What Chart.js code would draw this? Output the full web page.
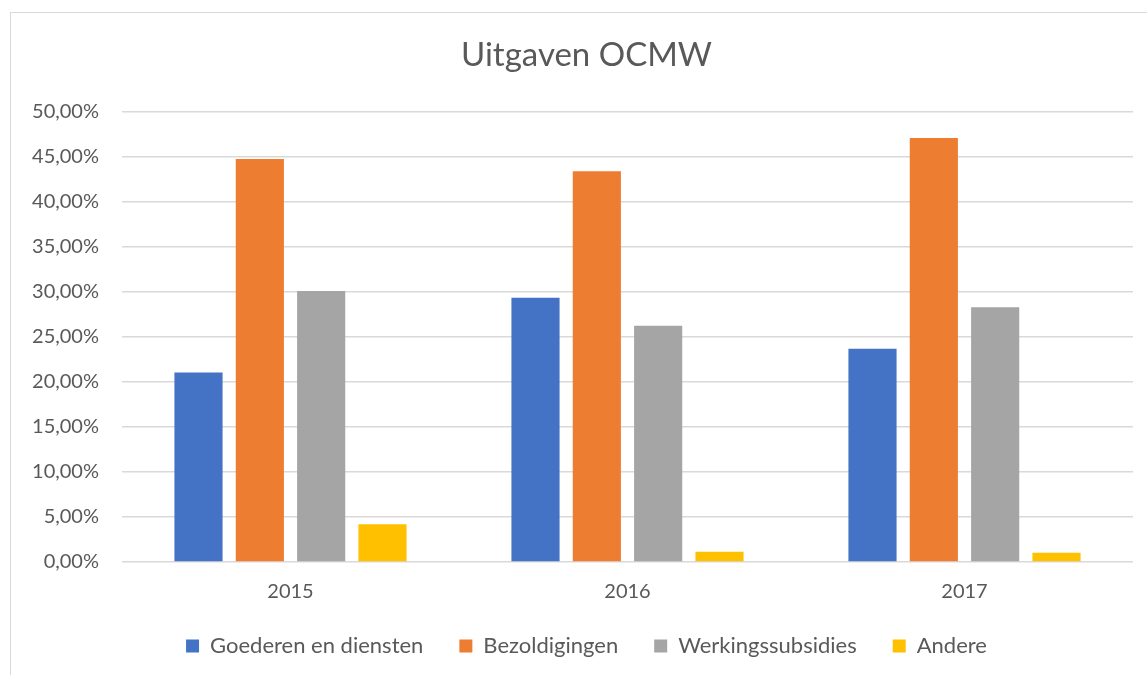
<!DOCTYPE html>
<html>
<head>
<meta charset="utf-8">
<script src="https://cdn.jsdelivr.net/npm/chart.js@4"></script>
<style>
  html, body { margin: 0; padding: 0; background: #fff; overflow: hidden; }
  #wrap {
    position: absolute; left: 10px; top: 12px;
    width: 1158px; height: 663px;
    border-left: 1px solid #d9d9d9; border-top: 1px solid #d9d9d9;
    box-sizing: border-box;
  }
</style>
</head>
<body>
<div id="wrap"><canvas id="chart"></canvas></div>
<script>
// Data
const years = ['2015', '2016', '2017'];
const goederen = [21.04, 29.33, 23.67];
const bezoldigingen = [44.74, 43.38, 47.08];
const werkingssubsidies = [30.08, 26.22, 28.27];
const andere = [4.19, 1.15, 1.04];

const textColor = '#595959';
const fontFamily = 'Lato, "Open Sans", sans-serif';

const makeSet = (label, data, color) => ({
    label,
    data,
    backgroundColor: color,
    borderWidth: 0,
    categoryPercentage: 0.728,
    barPercentage: 0.785
});

// pull the legend up closer to the axis labels (wide item spacing, tight vertical gap)
const legendShift = {
    id: 'legendShift',
    afterLayout(chart) {
        chart.legend.top -= 23;
    }
};

new Chart(document.getElementById('chart').getContext('2d'), {
    type: 'bar',
    data: {
        labels: years,
        datasets: [
            makeSet('Goederen en diensten', goederen, '#4472c4'),
            makeSet('Bezoldigingen', bezoldigingen, '#ed7d31'),
            makeSet('Werkingssubsidies', werkingssubsidies, '#a5a5a5'),
            makeSet('Andere', andere, '#ffc000')
        ]
    },
    plugins: [legendShift],
    options: {
        responsive: true,
        maintainAspectRatio: false,
        animation: false,
        layout: { padding: { left: 0, right: 6, top: 23, bottom: 0 } },
        plugins: {
            title: {
                display: true,
                text: 'Uitgaven OCMW',
                color: textColor,
                font: { family: fontFamily, size: 33, weight: 'normal' },
                padding: { top: 0, bottom: 36 }
            },
            legend: {
                position: 'bottom',
                maxHeight: 53,
                labels: {
                    color: textColor,
                    font: { family: fontFamily, size: 22 },
                    boxWidth: 13,
                    boxHeight: 13,
                    padding: 36
                }
            },
            tooltip: { enabled: false }
        },
        scales: {
            x: {
                grid: { display: false, drawTicks: false },
                border: { display: false },
                ticks: {
                    color: textColor,
                    font: { family: fontFamily, size: 20 },
                    padding: 18
                }
            },
            y: {
                min: 0,
                max: 50,
                grid: { color: '#d9d9d9', lineWidth: 1.5, drawTicks: false },
                border: { display: false },
                ticks: {
                    stepSize: 5,
                    color: textColor,
                    font: { family: fontFamily, size: 20 },
                    padding: 23,
                    callback: v => v.toFixed(2).replace('.', ',') + '%'
                },
                afterFit: scale => { scale.width = 111; }
            },
            yRight: {
                position: 'right',
                display: true,
                grid: { display: false, drawTicks: false },
                border: { display: false },
                ticks: { display: false },
                afterFit: scale => { scale.width = 29; }
            }
        }
    }
});
</script>
</body>
</html>
